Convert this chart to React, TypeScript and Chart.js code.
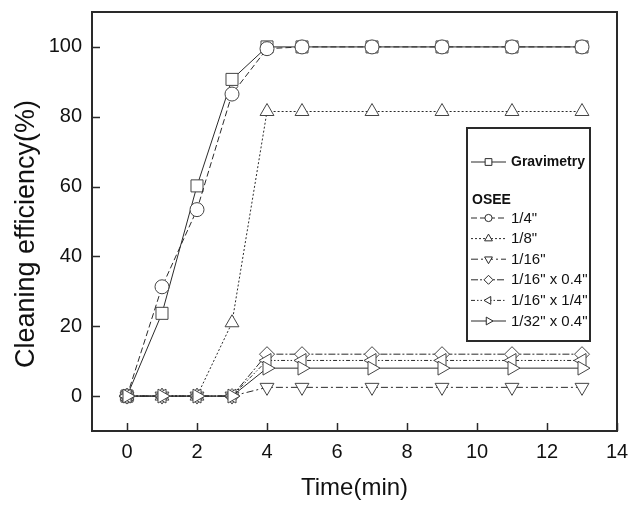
import React, { useEffect, useRef } from 'react';
import { Chart, registerables } from 'chart.js';

Chart.register(...registerables);

// ---- data ----
const times = [0, 1, 2, 3, 4, 5, 7, 9, 11, 13];
const gravimetry = [0, 23.7, 60.2, 90.7, 100, 100, 100, 100, 100, 100];
const osee1_4 = [0, 31.3, 53.4, 86.5, 99.5, 100, 100, 100, 100, 100];
const osee1_8 = [0, 0, 0, 21, 81.5, 81.5, 81.5, 81.5, 81.5, 81.5];
const osee1_16 = [0, 0, 0, 0, 2.5, 2.5, 2.5, 2.5, 2.5, 2.5];
const osee1_16x04 = [0, 0, 0, 0, 12, 12, 12, 12, 12, 12];
const osee1_16x1_4 = [0, 0, 0, 0, 10.2, 10.2, 10.2, 10.2, 10.2, 10.2];
const osee1_32x04 = [0, 0, 0, 0, 8, 8, 8, 8, 8, 8];

const seriesLabels = ['Gravimetry', '1/4"', '1/8"', '1/16"', '1/16" x 0.4"', '1/16" x 1/4"', '1/32" x 0.4"'];
const seriesValues = [gravimetry, osee1_4, osee1_8, osee1_16, osee1_16x04, osee1_16x1_4, osee1_32x04];
const groupHeader = 'OSEE';
const xTitle = 'Time(min)';
const yTitle = 'Cleaning efficiency(%)';
const xTicks = [0, 2, 4, 6, 8, 10, 12, 14];
const yTicks = [0, 20, 40, 60, 80, 100];

// ---- styles ----
const INK = '#2a2a2a';
const FONT = '"Liberation Sans", Arial, sans-serif';
type Marker = 'square' | 'circle' | 'up' | 'down' | 'diamond' | 'left' | 'right';
const markers: Marker[] = ['square', 'circle', 'up', 'down', 'diamond', 'left', 'right'];
const dashes: number[][] = [[], [6, 3], [2, 2], [7, 3, 2, 3], [7, 2, 2, 2], [4, 2, 1.5, 2, 1.5, 2], []];
const radii = [8.5, 7, 8, 8, 7.5, 8, 8];

function chartPoint(m: Marker): { style: string; rotation: number } {
  switch (m) {
    case 'square': return { style: 'rect', rotation: 0 };
    case 'circle': return { style: 'circle', rotation: 0 };
    case 'up': return { style: 'triangle', rotation: 0 };
    case 'down': return { style: 'triangle', rotation: 180 };
    case 'diamond': return { style: 'rectRot', rotation: 0 };
    case 'left': return { style: 'triangle', rotation: 270 };
    case 'right': return { style: 'triangle', rotation: 90 };
  }
}

function drawMarker(ctx: CanvasRenderingContext2D, m: Marker, x: number, y: number, r: number) {
  ctx.beginPath();
  const tri = (angle: number) => {
    for (let k = 0; k < 3; k++) {
      const a = angle + (k * 2 * Math.PI) / 3;
      const px = x + r * Math.cos(a);
      const py = y + r * Math.sin(a);
      if (k === 0) ctx.moveTo(px, py); else ctx.lineTo(px, py);
    }
    ctx.closePath();
  };
  switch (m) {
    case 'square': ctx.rect(x - r * 0.75, y - r * 0.75, r * 1.5, r * 1.5); break;
    case 'circle': ctx.arc(x, y, r * 0.8, 0, Math.PI * 2); break;
    case 'up': tri(-Math.PI / 2); break;
    case 'down': tri(Math.PI / 2); break;
    case 'left': tri(Math.PI); break;
    case 'right': tri(0); break;
    case 'diamond':
      ctx.moveTo(x, y - r); ctx.lineTo(x + r, y); ctx.lineTo(x, y + r); ctx.lineTo(x - r, y); ctx.closePath();
      break;
  }
  ctx.fillStyle = '#fff';
  ctx.fill();
  ctx.stroke();
}

const framePlugin = {
  id: 'frameTicksLegend',
  afterDraw(chart: any) {
    const { ctx, chartArea: a, scales } = chart;
    ctx.save();
    // frame
    ctx.strokeStyle = INK;
    ctx.lineWidth = 2;
    ctx.setLineDash([]);
    ctx.strokeRect(a.left, a.top, a.right - a.left, a.bottom - a.top);
    // inward ticks
    ctx.lineWidth = 1.5;
    ctx.beginPath();
    for (const v of xTicks) {
      const px = Math.round(scales.x.getPixelForValue(v)) + 0.5;
      ctx.moveTo(px, a.bottom);
      ctx.lineTo(px, a.bottom - 8);
    }
    for (const v of yTicks) {
      const py = Math.round(scales.y.getPixelForValue(v)) + 0.5;
      ctx.moveTo(a.left, py);
      ctx.lineTo(a.left + 8, py);
    }
    ctx.stroke();

    // y axis title
    ctx.save();
    ctx.translate(27, 234);
    ctx.rotate(-Math.PI / 2);
    ctx.fillStyle = '#111';
    ctx.font = `27px ${FONT}`;
    ctx.textAlign = 'center';
    ctx.textBaseline = 'middle';
    ctx.fillText(yTitle, 0, 0);
    ctx.restore();

    // legend box
    const bx = 467, by = 128, bw = 123, bh = 213;
    ctx.fillStyle = '#fff';
    ctx.fillRect(bx, by, bw, bh);
    ctx.lineWidth = 2;
    ctx.strokeStyle = INK;
    ctx.strokeRect(bx, by, bw, bh);

    const rows = [162, 218, 238.6, 259.2, 279.8, 300.4, 321];
    ctx.textBaseline = 'middle';
    ctx.textAlign = 'left';
    seriesLabels.forEach((label, i) => {
      const y = rows[i];
      ctx.strokeStyle = INK;
      ctx.lineWidth = 1;
      ctx.setLineDash(dashes[i]);
      ctx.beginPath();
      ctx.moveTo(471, y);
      ctx.lineTo(506, y);
      ctx.stroke();
      ctx.setLineDash([]);
      drawMarker(ctx, markers[i], 488.5, y, 4.5);
      ctx.fillStyle = '#111';
      ctx.font = i === 0 ? `bold 14px ${FONT}` : `15px ${FONT}`;
      ctx.fillText(label, 511, y + 0.5);
    });
    ctx.fillStyle = '#111';
    ctx.font = `bold 14px ${FONT}`;
    ctx.fillText(groupHeader, 472, 200);
    ctx.restore();
  },
};

export default function App() {
  const ref = useRef<HTMLCanvasElement | null>(null);

  useEffect(() => {
    if (!ref.current) return;
    const datasets = seriesValues.map((vals, i) => {
      const p = chartPoint(markers[i]);
      return {
        label: seriesLabels[i],
        data: times.map((t, k) => ({ x: t, y: vals[k] })),
        order: seriesValues.length - i,
        borderColor: INK,
        borderWidth: 1,
        borderDash: dashes[i],
        pointStyle: p.style,
        rotation: p.rotation,
        pointRadius: radii[i],
        pointBorderColor: '#444',
        pointBackgroundColor: '#fff',
        pointBorderWidth: 1,
        tension: 0,
        fill: false,
      };
    });

    const chart = new Chart(ref.current, {
      type: 'line',
      data: { datasets },
      plugins: [framePlugin],
      options: {
        responsive: false,
        animation: false,
        layout: { padding: { top: 12, right: 24, left: 0, bottom: 0 } },
        plugins: { legend: { display: false }, tooltip: { enabled: false } },
        scales: {
          x: {
            type: 'linear',
            min: -1,
            max: 14,
            grid: { display: false, drawTicks: false },
            border: { display: false },
            afterBuildTicks: (s: any) => { s.ticks = xTicks.map((v) => ({ value: v })); },
            afterFit: (s: any) => { s.height = 74; s.paddingLeft = 0; s.paddingRight = 0; },
            ticks: {
              padding: 9,
              color: '#111',
              font: { family: FONT, size: 20 },
              maxRotation: 0,
              autoSkip: false,
            },
            title: {
              display: true,
              text: xTitle,
              color: '#111',
              font: { family: FONT, size: 24 },
              padding: { top: 0, bottom: 2 },
            },
          },
          y: {
            type: 'linear',
            min: -10,
            max: 110,
            grid: { display: false, drawTicks: false },
            border: { display: false },
            afterBuildTicks: (s: any) => { s.ticks = yTicks.map((v) => ({ value: v })); },
            afterFit: (s: any) => { s.width = 92; s.paddingTop = 0; s.paddingBottom = 0; },
            ticks: {
              padding: 10,
              color: '#111',
              font: { family: FONT, size: 20 },
            },
            title: { display: false },
          },
        },
      },
    } as any);
    return () => chart.destroy();
  }, []);

  return (
    <div style={{ position: 'absolute', left: 0, top: 0, width: 641, height: 505, background: '#fff' }}>
      <canvas ref={ref} width={641} height={505} style={{ display: 'block' }} />
    </div>
  );
}
